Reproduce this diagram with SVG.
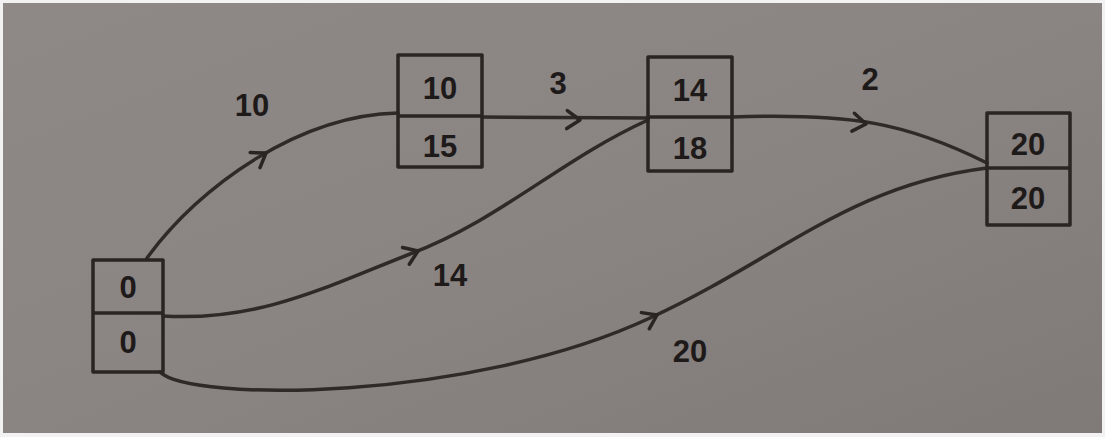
<svg xmlns="http://www.w3.org/2000/svg" width="1105" height="437" viewBox="0 0 1105 437">
<defs>
<linearGradient id="paper" x1="0" y1="0" x2="1" y2="1">
<stop offset="0" stop-color="#8e8987"/>
<stop offset="0.5" stop-color="#8a8482"/>
<stop offset="1" stop-color="#7f7977"/>
</linearGradient>
<style>
.box{fill:none;stroke:#2a2423;stroke-width:3.5;stroke-linejoin:round}
.div{stroke:#2a2423;stroke-width:3.5}
.edge{fill:none;stroke:#2f2928;stroke-width:3.5;stroke-linecap:round}
.head{fill:none;stroke:#2a2423;stroke-width:3.5;stroke-linecap:round;stroke-linejoin:round}
.t{font-family:"Liberation Sans",Arial,sans-serif;font-size:31px;font-weight:bold;fill:#1f1a1a;text-anchor:middle}
</style>
</defs>
<rect x="0" y="0" width="1105" height="437" fill="#f2f2f2"/>
<rect x="3" y="3" width="1099" height="430" fill="url(#paper)"/>
<g id="connectors">
<path class="edge" d="M147,258 C200,185 300,115 398,113"/>
<path class="head" d="M-13,-9 L0,0 L-13,9" transform="translate(266,153) rotate(-33)"/>
<path class="edge" d="M482,117 L648,118"/>
<path class="head" d="M-13,-9 L0,0 L-13,9" transform="translate(580,120) rotate(2)"/>
<path class="edge" d="M732,117 C850,113 905,122 987,163"/>
<path class="head" d="M-13,-9 L0,0 L-13,9" transform="translate(866,124) rotate(8)"/>
<path class="edge" d="M163,316 C260,322 330,285 410,254 C500,220 560,160 648,120"/>
<path class="head" d="M-13,-9 L0,0 L-13,9" transform="translate(418,251) rotate(-22)"/>
<path class="edge" d="M160,372 C190,402 470,402 650,318 C780,258 850,185 987,168"/>
<path class="head" d="M-13,-9 L0,0 L-13,9" transform="translate(657,315) rotate(-26)"/>
<text class="t" x="252" y="116">10</text>
<text class="t" x="558" y="94">3</text>
<text class="t" x="870" y="90">2</text>
<text class="t" x="450" y="286">14</text>
<text class="t" x="690" y="362">20</text>
</g>
<g id="node-0">
<rect class="box" x="93" y="260" width="70" height="112"/>
<line class="div" x1="93" y1="313" x2="163" y2="313"/>
<text class="t" x="128" y="298">0</text>
<text class="t" x="128" y="353">0</text>
</g>
<g id="node-10">
<rect class="box" x="398" y="55" width="84" height="112"/>
<line class="div" x1="398" y1="116" x2="482" y2="116"/>
<text class="t" x="440" y="99">10</text>
<text class="t" x="440" y="157">15</text>
</g>
<g id="node-14">
<rect class="box" x="648" y="57" width="84" height="114"/>
<line class="div" x1="648" y1="117" x2="732" y2="117"/>
<text class="t" x="690" y="101">14</text>
<text class="t" x="690" y="159">18</text>
</g>
<g id="node-20">
<rect class="box" x="987" y="113" width="83" height="112"/>
<line class="div" x1="987" y1="168" x2="1070" y2="168"/>
<text class="t" x="1028" y="155">20</text>
<text class="t" x="1028" y="209">20</text>
</g>
</svg>
